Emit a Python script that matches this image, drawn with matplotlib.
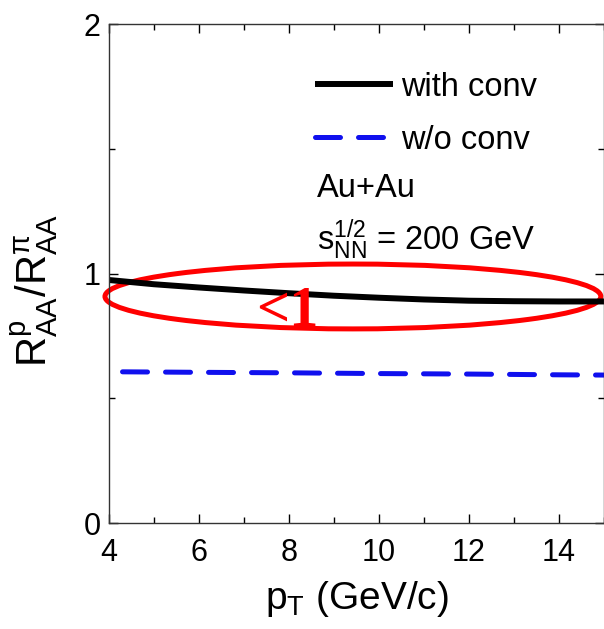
import matplotlib
matplotlib.use("Agg")
import matplotlib.pyplot as plt
from matplotlib.patches import Ellipse

plt.rcParams['font.family'] = ['Liberation Sans', 'DejaVu Sans']
plt.rcParams['mathtext.fontset'] = 'custom'
plt.rcParams['mathtext.rm'] = 'Liberation Sans'
plt.rcParams['mathtext.it'] = 'Liberation Sans'
plt.rcParams['mathtext.sf'] = 'Liberation Sans'

# proton/pion R_AA ratio vs pT
pt_conv = [4, 5, 6, 7, 8, 9, 10, 11, 12, 13, 14, 15]
ratio_conv = [0.974, 0.957, 0.944, 0.932, 0.921, 0.911, 0.903, 0.896, 0.891, 0.889, 0.888, 0.888]
pt_noconv = [4.3, 6, 8, 10, 12, 14, 15]
ratio_noconv = [0.606, 0.604, 0.602, 0.599, 0.597, 0.594, 0.593]

xticks = [4, 6, 8, 10, 12, 14]
yticks = [0, 1, 2]

fig = plt.figure(figsize=(6.04, 6.29), dpi=100)
ax = fig.add_axes([0.1805, 0.1685, 0.8195, 0.7933])

ax.plot(pt_conv, ratio_conv, color='black', lw=4.3, label='with conv',
        solid_capstyle='butt')
ax.plot(pt_noconv, ratio_noconv, color='#1010ee', lw=3.6, label='w/o conv',
        dashes=(5, 3.6), dash_capstyle='round')

ax.set_xlim(4, 15)
ax.set_ylim(0, 2)
ax.set_xticks(xticks)
ax.set_yticks(yticks)
ax.set_xticks([5, 7, 9, 11, 13, 15], minor=True)
ax.set_yticks([0.5, 1.5], minor=True)
ax.tick_params(which='both', direction='in', top=True, right=True, width=1.0)
ax.tick_params(which='major', length=6.5, labelsize=22)
ax.tick_params(axis='x', which='major', pad=11)
ax.tick_params(axis='y', which='major', pad=6)
ax.tick_params(which='minor', length=4)
for s in ax.spines.values():
    s.set_linewidth(1.0)
    s.set_color('#333333')

ax.set_xlabel(r'$\mathrm{p_T}$ (GeV/c)', fontsize=28, labelpad=8)
ax.set_ylabel(r'$\mathrm{R^{p}_{AA}/R^{\pi}_{AA}}$', fontsize=30)
ax.yaxis.set_label_coords(-0.099, 0.467)

ax.legend(loc='upper left', bbox_to_anchor=(0.39, 0.931), frameon=False,
          fontsize=23.5, handlelength=2.4, handletextpad=0.22, labelspacing=0.68,
          borderaxespad=0)
ax.text(0.42, 0.671, 'Au+Au', transform=ax.transAxes, fontsize=23.5, va='center')
ax.text(0.42, 0.567, r'$\mathrm{s_{NN}^{1/2}}$ = 200 GeV', transform=ax.transAxes,
        fontsize=23.5, va='center')

# highlight the ratio below one
ax.add_patch(Ellipse((9.42, 0.908), 11.02, 0.26, fill=False, edgecolor='red',
                     lw=3.6, clip_on=False))
ax.text(7.27, 0.79, '<1', color='red', fontsize=42, family='Liberation Serif',
        weight='bold', va='baseline')

fig.savefig('out.png', dpi=100)
